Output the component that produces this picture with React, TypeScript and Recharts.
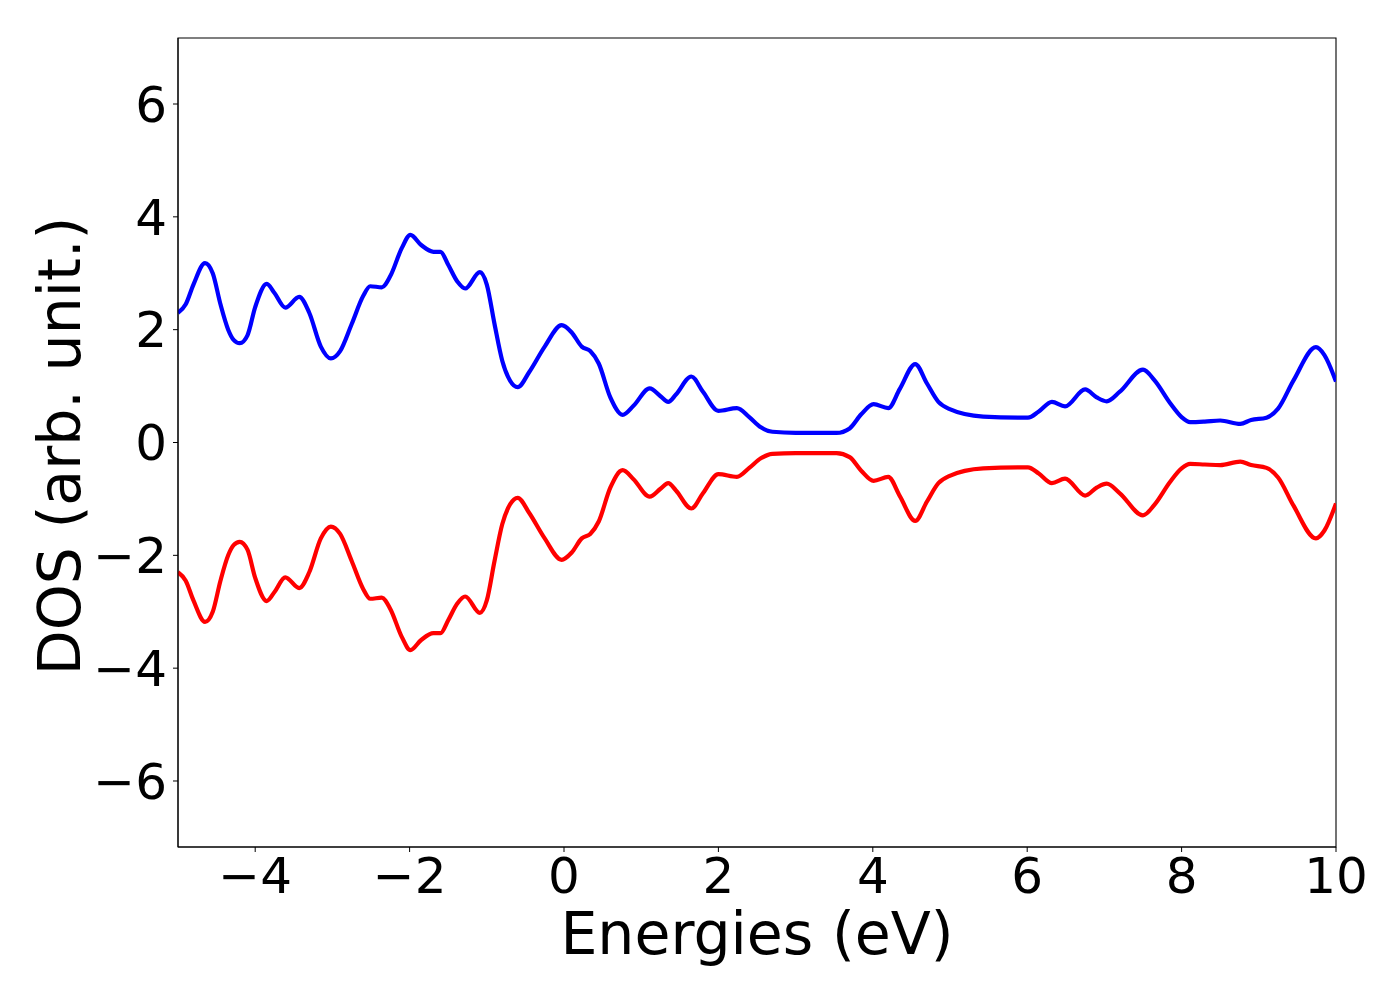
import { LineChart, Line, XAxis, YAxis, ReferenceArea } from "recharts";

// energies (eV) where the curves were sampled
const energies = [
  -5.0, -4.9, -4.8, -4.65, -4.55, -4.45, -4.35, -4.28, -4.2, -4.1, -4.0, -3.85, -3.75, -3.61, -3.43, -3.3,
  -3.15, -3.02, -2.9, -2.75, -2.6, -2.51, -2.36, -2.25, -2.1, -1.99, -1.85, -1.69, -1.6, -1.5,
  -1.38, -1.28, -1.09, -1.0, -0.9, -0.8, -0.7, -0.6, -0.45, -0.25, -0.03, 0.1, 0.23, 0.34, 0.45,
  0.6, 0.76, 0.9, 1.11, 1.25, 1.35, 1.45, 1.65, 1.8, 2.0, 2.24, 2.4, 2.55, 2.7, 3.0, 3.53, 3.7,
  3.85, 4.01, 4.2, 4.35, 4.55, 4.7, 4.85, 4.98, 5.43, 6.01, 6.15, 6.32, 6.49, 6.75, 6.9, 7.03,
  7.2, 7.5, 7.65, 7.85, 8.0, 8.11, 8.3, 8.5, 8.76, 8.9, 9.1, 9.25, 9.45, 9.74, 9.85, 10.0,
];

// spin up DOS
const dosUp = [
  2.3, 2.45, 2.8, 3.18, 3.0, 2.45, 2.0, 1.82, 1.76, 1.9, 2.4, 2.81, 2.65, 2.39, 2.58, 2.3,
  1.7, 1.49, 1.62, 2.1, 2.6, 2.77, 2.75, 2.95, 3.45, 3.68, 3.5, 3.38, 3.38, 3.15,
  2.85, 2.73, 3.02, 2.8, 2.1, 1.45, 1.1, 0.98, 1.25, 1.7, 2.08, 1.95, 1.7, 1.62, 1.4,
  0.8, 0.49, 0.65, 0.96, 0.82, 0.72, 0.85, 1.17, 0.9, 0.56, 0.61, 0.45, 0.27, 0.19, 0.17, 0.17, 0.25,
  0.5, 0.68, 0.61, 0.95, 1.39, 1.05, 0.72, 0.6, 0.46, 0.44, 0.55, 0.72, 0.64, 0.94, 0.8, 0.73,
  0.9, 1.29, 1.1, 0.7, 0.45, 0.36, 0.37, 0.39, 0.33, 0.4, 0.44, 0.6, 1.1, 1.69, 1.55, 1.08,
];

// spin down DOS
const dosDown = [
  -2.3, -2.45, -2.8, -3.18, -3.0, -2.45, -2.0, -1.82, -1.76, -1.9, -2.4, -2.81, -2.65, -2.39, -2.58, -2.3,
  -1.7, -1.49, -1.62, -2.1, -2.6, -2.77, -2.75, -2.95, -3.45, -3.68, -3.5, -3.38, -3.38, -3.15,
  -2.85, -2.73, -3.02, -2.8, -2.1, -1.45, -1.1, -0.98, -1.25, -1.7, -2.08, -1.95, -1.7, -1.62, -1.4,
  -0.8, -0.49, -0.65, -0.96, -0.82, -0.72, -0.85, -1.17, -0.9, -0.56, -0.61, -0.45, -0.28, -0.2, -0.19, -0.19, -0.26,
  -0.5, -0.68, -0.61, -0.95, -1.39, -1.05, -0.72, -0.6, -0.46, -0.44, -0.55, -0.72, -0.64, -0.94, -0.8, -0.73,
  -0.9, -1.29, -1.1, -0.7, -0.46, -0.38, -0.39, -0.4, -0.34, -0.4, -0.45, -0.62, -1.12, -1.7, -1.56, -1.08,
];

const xTicks = [-4, -2, 0, 2, 4, 6, 8, 10];
const yTicks = [-6, -4, -2, 0, 2, 4, 6];

const data = energies.map((e, i) => ({ e, up: dosUp[i], down: dosDown[i] }));

const font = "DejaVu Sans";
const fmt = (v: number) => String(v).replace("-", "\u2212");

const App = () => {
  return (
    <div style={{ position: "absolute", left: 0, top: 0, width: 1400, height: 1000, background: "#fff" }}>
      <LineChart width={1400} height={1000} data={data} margin={{ top: 38, right: 64, bottom: 0, left: 0 }}>
        <XAxis
          dataKey="e"
          type="number"
          domain={[-5, 10]}
          ticks={xTicks}
          allowDataOverflow
          height={153}
          tickSize={5}
          tickMargin={5}
          tickFormatter={fmt}
          stroke="#000"
          tick={{ fill: "#000", fontSize: 50, fontFamily: font }}
          label={() => (
            <text x={757} y={954} textAnchor="middle" fontSize={58.5} fontFamily={font} fill="#000">
              Energies (eV)
            </text>
          )}
        />
        <YAxis
          type="number"
          domain={[-7.17, 7.17]}
          ticks={yTicks}
          allowDataOverflow
          width={178}
          tickSize={5}
          tickMargin={6}
          tickFormatter={fmt}
          stroke="#000"
          tick={{ fill: "#000", fontSize: 50, fontFamily: font }}
          label={() => (
            <text
              x={60}
              y={446}
              transform="rotate(-90 60 446)"
              textAnchor="middle"
              dominantBaseline="central"
              fontSize={58.5}
              fontFamily={font}
              fill="#000"
            >
              DOS (arb. unit.)
            </text>
          )}
        />
        <ReferenceArea x1={-5} x2={10} y1={-7.17} y2={7.17} fill="none" stroke="#000" strokeWidth={1.1} />
        <Line dataKey="up" type="monotone" stroke="#0000ff" strokeWidth={4.2} dot={false} isAnimationActive={false} />
        <Line dataKey="down" type="monotone" stroke="#ff0000" strokeWidth={4.2} dot={false} isAnimationActive={false} />
      </LineChart>
    </div>
  );
};

export default App;
